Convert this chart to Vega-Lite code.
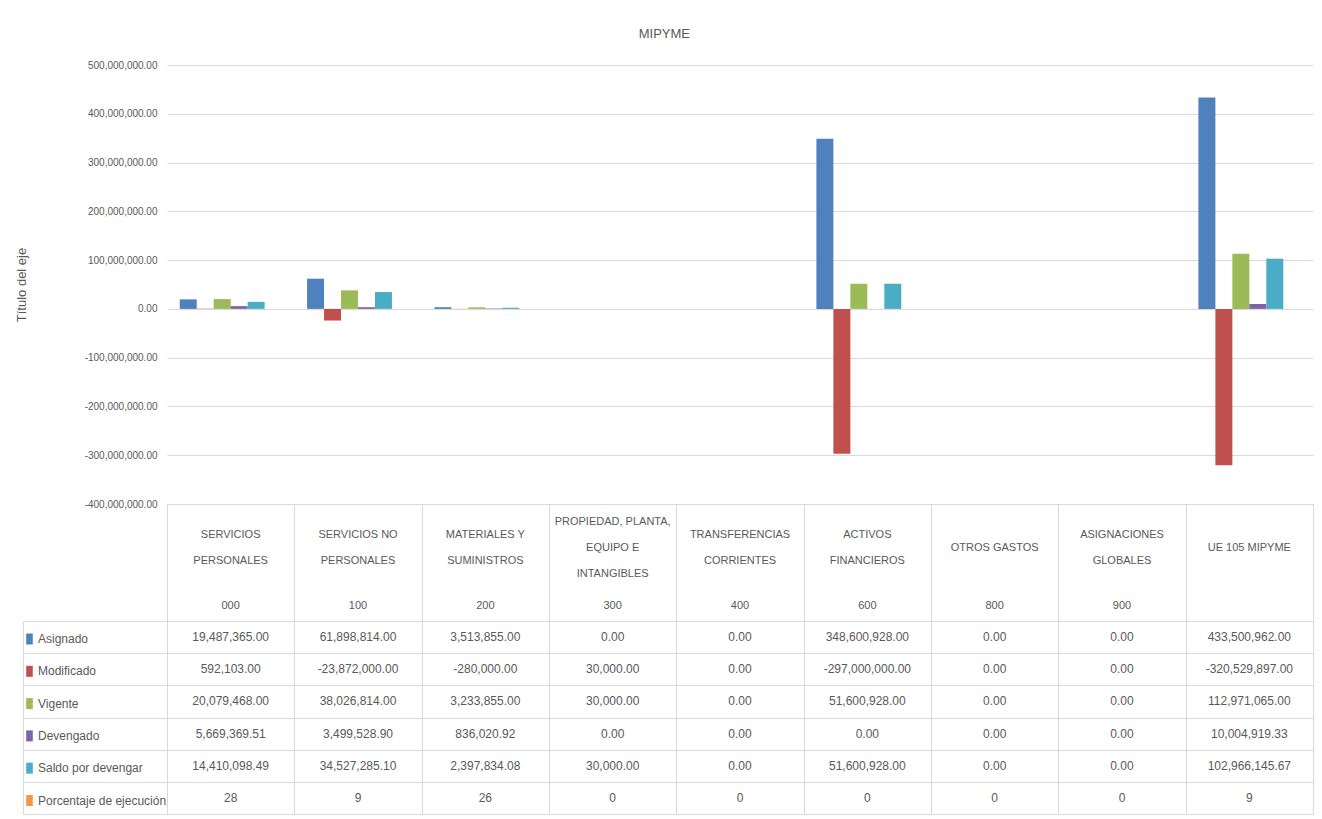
{
  "$schema": "https://vega.github.io/schema/vega-lite/v6.json",
  "padding": {"left": 15, "top": 28, "right": 10, "bottom": 0},
  "autosize": {"type": "pad"},
  "background": "white",
  "config": {
    "locale": {"number": {"decimal": ".", "thousands": ",", "grouping": [3], "currency": ["$", ""], "minus": "-"}},
    "font": "Liberation Sans, Arial, sans-serif"
  },
  "title": {"text": "MIPYME", "font": "Liberation Sans, Arial, sans-serif", "fontSize": 13, "fontWeight": "normal", "color": "#595959", "anchor": "middle", "frame": "bounds", "offset": 19},
  "datasets": {
    "vals": [
      {"cat": "SERVICIOS PERSONALES", "serie": "Asignado", "value": 19487365.00},
      {"cat": "SERVICIOS NO PERSONALES", "serie": "Asignado", "value": 61898814.00},
      {"cat": "MATERIALES Y SUMINISTROS", "serie": "Asignado", "value": 3513855.00},
      {"cat": "PROPIEDAD, PLANTA, EQUIPO E INTANGIBLES", "serie": "Asignado", "value": 0},
      {"cat": "TRANSFERENCIAS CORRIENTES", "serie": "Asignado", "value": 0},
      {"cat": "ACTIVOS FINANCIEROS", "serie": "Asignado", "value": 348600928.00},
      {"cat": "OTROS GASTOS", "serie": "Asignado", "value": 0},
      {"cat": "ASIGNACIONES GLOBALES", "serie": "Asignado", "value": 0},
      {"cat": "UE 105 MIPYME", "serie": "Asignado", "value": 433500962.00},
      {"cat": "SERVICIOS PERSONALES", "serie": "Modificado", "value": 592103.00},
      {"cat": "SERVICIOS NO PERSONALES", "serie": "Modificado", "value": -23872000.00},
      {"cat": "MATERIALES Y SUMINISTROS", "serie": "Modificado", "value": -280000.00},
      {"cat": "PROPIEDAD, PLANTA, EQUIPO E INTANGIBLES", "serie": "Modificado", "value": 30000.00},
      {"cat": "TRANSFERENCIAS CORRIENTES", "serie": "Modificado", "value": 0},
      {"cat": "ACTIVOS FINANCIEROS", "serie": "Modificado", "value": -297000000.00},
      {"cat": "OTROS GASTOS", "serie": "Modificado", "value": 0},
      {"cat": "ASIGNACIONES GLOBALES", "serie": "Modificado", "value": 0},
      {"cat": "UE 105 MIPYME", "serie": "Modificado", "value": -320529897.00},
      {"cat": "SERVICIOS PERSONALES", "serie": "Vigente", "value": 20079468.00},
      {"cat": "SERVICIOS NO PERSONALES", "serie": "Vigente", "value": 38026814.00},
      {"cat": "MATERIALES Y SUMINISTROS", "serie": "Vigente", "value": 3233855.00},
      {"cat": "PROPIEDAD, PLANTA, EQUIPO E INTANGIBLES", "serie": "Vigente", "value": 30000.00},
      {"cat": "TRANSFERENCIAS CORRIENTES", "serie": "Vigente", "value": 0},
      {"cat": "ACTIVOS FINANCIEROS", "serie": "Vigente", "value": 51600928.00},
      {"cat": "OTROS GASTOS", "serie": "Vigente", "value": 0},
      {"cat": "ASIGNACIONES GLOBALES", "serie": "Vigente", "value": 0},
      {"cat": "UE 105 MIPYME", "serie": "Vigente", "value": 112971065.00},
      {"cat": "SERVICIOS PERSONALES", "serie": "Devengado", "value": 5669369.51},
      {"cat": "SERVICIOS NO PERSONALES", "serie": "Devengado", "value": 3499528.90},
      {"cat": "MATERIALES Y SUMINISTROS", "serie": "Devengado", "value": 836020.92},
      {"cat": "PROPIEDAD, PLANTA, EQUIPO E INTANGIBLES", "serie": "Devengado", "value": 0},
      {"cat": "TRANSFERENCIAS CORRIENTES", "serie": "Devengado", "value": 0},
      {"cat": "ACTIVOS FINANCIEROS", "serie": "Devengado", "value": 0},
      {"cat": "OTROS GASTOS", "serie": "Devengado", "value": 0},
      {"cat": "ASIGNACIONES GLOBALES", "serie": "Devengado", "value": 0},
      {"cat": "UE 105 MIPYME", "serie": "Devengado", "value": 10004919.33},
      {"cat": "SERVICIOS PERSONALES", "serie": "Saldo por devengar", "value": 14410098.49},
      {"cat": "SERVICIOS NO PERSONALES", "serie": "Saldo por devengar", "value": 34527285.10},
      {"cat": "MATERIALES Y SUMINISTROS", "serie": "Saldo por devengar", "value": 2397834.08},
      {"cat": "PROPIEDAD, PLANTA, EQUIPO E INTANGIBLES", "serie": "Saldo por devengar", "value": 30000.00},
      {"cat": "TRANSFERENCIAS CORRIENTES", "serie": "Saldo por devengar", "value": 0},
      {"cat": "ACTIVOS FINANCIEROS", "serie": "Saldo por devengar", "value": 51600928.00},
      {"cat": "OTROS GASTOS", "serie": "Saldo por devengar", "value": 0},
      {"cat": "ASIGNACIONES GLOBALES", "serie": "Saldo por devengar", "value": 0},
      {"cat": "UE 105 MIPYME", "serie": "Saldo por devengar", "value": 102966145.67},
      {"cat": "SERVICIOS PERSONALES", "serie": "Porcentaje de ejecución", "value": 28},
      {"cat": "SERVICIOS NO PERSONALES", "serie": "Porcentaje de ejecución", "value": 9},
      {"cat": "MATERIALES Y SUMINISTROS", "serie": "Porcentaje de ejecución", "value": 26},
      {"cat": "PROPIEDAD, PLANTA, EQUIPO E INTANGIBLES", "serie": "Porcentaje de ejecución", "value": 0},
      {"cat": "TRANSFERENCIAS CORRIENTES", "serie": "Porcentaje de ejecución", "value": 0},
      {"cat": "ACTIVOS FINANCIEROS", "serie": "Porcentaje de ejecución", "value": 0},
      {"cat": "OTROS GASTOS", "serie": "Porcentaje de ejecución", "value": 0},
      {"cat": "ASIGNACIONES GLOBALES", "serie": "Porcentaje de ejecución", "value": 0},
      {"cat": "UE 105 MIPYME", "serie": "Porcentaje de ejecución", "value": 9}
    ],
    "cats": [
      {"cat": "SERVICIOS PERSONALES", "label": "SERVICIOS\nPERSONALES", "code": "000"},
      {"cat": "SERVICIOS NO PERSONALES", "label": "SERVICIOS NO\nPERSONALES", "code": "100"},
      {"cat": "MATERIALES Y SUMINISTROS", "label": "MATERIALES Y\nSUMINISTROS", "code": "200"},
      {"cat": "PROPIEDAD, PLANTA, EQUIPO E INTANGIBLES", "label": "PROPIEDAD, PLANTA,\nEQUIPO  E\nINTANGIBLES", "code": "300"},
      {"cat": "TRANSFERENCIAS CORRIENTES", "label": "TRANSFERENCIAS\nCORRIENTES", "code": "400"},
      {"cat": "ACTIVOS FINANCIEROS", "label": "ACTIVOS\nFINANCIEROS", "code": "600"},
      {"cat": "OTROS GASTOS", "label": "OTROS GASTOS", "code": "800"},
      {"cat": "ASIGNACIONES GLOBALES", "label": "ASIGNACIONES\nGLOBALES", "code": "900"},
      {"cat": "UE 105 MIPYME", "label": "UE 105 MIPYME", "code": ""}
    ]
  },
  "vconcat": [
    {
      "width": 1146,
      "height": 439,
      "view": {"stroke": null},
      "data": {"name": "vals"},
      "mark": {"type": "bar"},
      "encoding": {
        "x": {"field": "cat", "type": "nominal", "scale": {"domain": ["SERVICIOS PERSONALES", "SERVICIOS NO PERSONALES", "MATERIALES Y SUMINISTROS", "PROPIEDAD, PLANTA, EQUIPO E INTANGIBLES", "TRANSFERENCIAS CORRIENTES", "ACTIVOS FINANCIEROS", "OTROS GASTOS", "ASIGNACIONES GLOBALES", "UE 105 MIPYME"], "paddingInner": 0.2, "paddingOuter": 0.1}, "axis": null},
        "xOffset": {"field": "serie", "type": "nominal", "scale": {"domain": ["Asignado", "Modificado", "Vigente", "Devengado", "Saldo por devengar", "Porcentaje de ejecución"]}},
        "y": {"field": "value", "type": "quantitative",
          "scale": {"domain": [-400000000, 500000000], "nice": false, "zero": false},
          "axis": {"values": [-400000000, -300000000, -200000000, -100000000, 0, 100000000, 200000000, 300000000, 400000000, 500000000],
            "format": ",.2f", "grid": true, "gridColor": "#d9d9d9", "domain": false, "ticks": false,
            "labelFont": "Liberation Sans, Arial, sans-serif", "labelFontSize": 10, "labelColor": "#595959", "labelPadding": 10,
            "title": "Título del eje", "titleFont": "Liberation Sans, Arial, sans-serif", "titleFontSize": 13, "titleFontWeight": "normal", "titleColor": "#595959", "titlePadding": 56}},
        "color": {"field": "serie", "type": "nominal",
          "scale": {"domain": ["Asignado", "Modificado", "Vigente", "Devengado", "Saldo por devengar", "Porcentaje de ejecución"], "range": ["#4F81BD", "#C0504D", "#9BBB59", "#8064A2", "#4BACC6", "#F79646"]},
          "legend": {"title": null, "orient": "none", "legendX": -143.5, "legendY": 568, "direction": "vertical",
            "symbolType": "M-0.6,-1H0.6V1H-0.6Z", "symbolSize": 121, "symbolStrokeWidth": 0,
            "labelFont": "Liberation Sans, Arial, sans-serif", "labelFontSize": 12, "labelColor": "#595959",
            "labelOffset": 2.5, "rowPadding": 20.3, "padding": 0, "labelLimit": 200}}
      }
    },
    {
      "width": 1146,
      "height": 117,
      "view": {"stroke": "#d9d9d9"},
      "data": {"name": "cats"},
      "layer": [
        {
          "transform": [{"filter": "length(split(datum.label, '\\n')) === 3"}],
          "mark": {"type": "text", "lineBreak": "\n", "lineHeight": 25.8, "fontSize": 11, "color": "#595959", "font": "Liberation Sans, Arial, sans-serif", "baseline": "middle"},
          "encoding": {
            "x": {"field": "cat", "type": "nominal", "scale": {"domain": ["SERVICIOS PERSONALES", "SERVICIOS NO PERSONALES", "MATERIALES Y SUMINISTROS", "PROPIEDAD, PLANTA, EQUIPO E INTANGIBLES", "TRANSFERENCIAS CORRIENTES", "ACTIVOS FINANCIEROS", "OTROS GASTOS", "ASIGNACIONES GLOBALES", "UE 105 MIPYME"], "paddingInner": 0, "paddingOuter": 0},
              "axis": {"grid": true, "tickBand": "extent", "gridColor": "#d9d9d9", "labels": false, "ticks": false, "domain": false, "title": null}},
            "y": {"datum": "a3", "type": "nominal", "scale": {"type": "point", "domain": ["z1", "z2", "a3", "d1", "a2", "d2", "a1", "e1", "e2", "e3", "e4", "e5", "e6", "e7", "e8", "code", "q1", "q2"], "padding": 0.578, "align": 0.711}, "axis": null},
            "text": {"field": "label", "type": "nominal"}
          }
        },
        {
          "transform": [{"filter": "length(split(datum.label, '\\n')) === 2"}],
          "mark": {"type": "text", "lineBreak": "\n", "lineHeight": 25.8, "fontSize": 11, "color": "#595959", "font": "Liberation Sans, Arial, sans-serif", "baseline": "middle"},
          "encoding": {
            "x": {"field": "cat", "type": "nominal"},
            "y": {"datum": "a2", "type": "nominal"},
            "text": {"field": "label", "type": "nominal"}
          }
        },
        {
          "transform": [{"filter": "length(split(datum.label, '\\n')) === 1"}],
          "mark": {"type": "text", "fontSize": 11, "color": "#595959", "font": "Liberation Sans, Arial, sans-serif", "baseline": "middle"},
          "encoding": {
            "x": {"field": "cat", "type": "nominal"},
            "y": {"datum": "a1", "type": "nominal"},
            "text": {"field": "label", "type": "nominal"}
          }
        },
        {
          "mark": {"type": "text", "fontSize": 11, "color": "#595959", "font": "Liberation Sans, Arial, sans-serif", "baseline": "middle"},
          "encoding": {
            "x": {"field": "cat", "type": "nominal"},
            "y": {"datum": "code", "type": "nominal"},
            "text": {"field": "code", "type": "nominal"}
          }
        }
      ]
    },
    {
      "width": 1146,
      "height": 193,
      "view": {"stroke": "#d9d9d9"},
      "data": {"name": "vals"},
      "layer": [
        {
          "transform": [{"filter": "datum.serie !== 'Porcentaje de ejecución'"}],
          "mark": {"type": "text", "fontSize": 12, "color": "#595959", "font": "Liberation Sans, Arial, sans-serif", "baseline": "middle"},
          "encoding": {
            "x": {"field": "cat", "type": "nominal", "scale": {"domain": ["SERVICIOS PERSONALES", "SERVICIOS NO PERSONALES", "MATERIALES Y SUMINISTROS", "PROPIEDAD, PLANTA, EQUIPO E INTANGIBLES", "TRANSFERENCIAS CORRIENTES", "ACTIVOS FINANCIEROS", "OTROS GASTOS", "ASIGNACIONES GLOBALES", "UE 105 MIPYME"], "paddingInner": 0, "paddingOuter": 0},
              "axis": {"grid": true, "tickBand": "extent", "gridColor": "#d9d9d9", "labels": false, "ticks": false, "domain": false, "title": null}},
            "y": {"field": "serie", "type": "nominal", "scale": {"type": "band", "domain": ["Asignado", "Modificado", "Vigente", "Devengado", "Saldo por devengar", "Porcentaje de ejecución"], "paddingInner": 0, "paddingOuter": 0},
              "axis": {"grid": true, "tickBand": "extent", "gridColor": "#d9d9d9", "labels": false, "ticks": true, "tickSize": -144, "tickColor": "#d9d9d9", "offset": 144, "domain": true, "domainColor": "#d9d9d9", "title": null}},
            "text": {"field": "value", "type": "quantitative", "format": ",.2f"}
          }
        },
        {
          "transform": [{"filter": "datum.serie === 'Porcentaje de ejecución'"}],
          "mark": {"type": "text", "fontSize": 12, "color": "#595959", "font": "Liberation Sans, Arial, sans-serif", "baseline": "middle"},
          "encoding": {
            "x": {"field": "cat", "type": "nominal"},
            "y": {"field": "serie", "type": "nominal"},
            "text": {"field": "value", "type": "quantitative", "format": ",.0f"}
          }
        }
      ]
    }
  ],
  "spacing": 0,
  "bounds": "flush",
  "resolve": {"scale": {"x": "independent", "y": "independent", "color": "shared"}}
}
